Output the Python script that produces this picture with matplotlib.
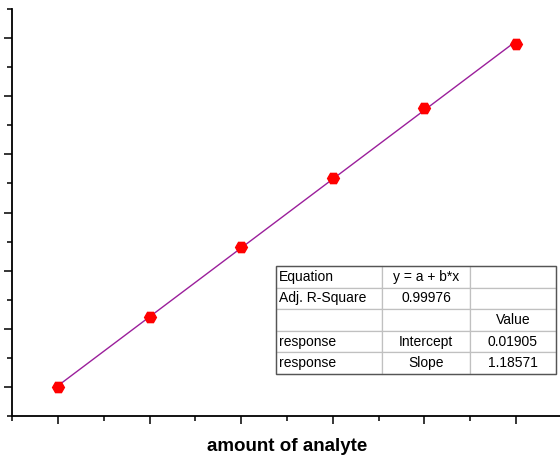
import matplotlib
matplotlib.use("Agg")
import matplotlib.pyplot as plt
import numpy as np
from matplotlib.ticker import MultipleLocator, NullFormatter

plt.rcParams["font.family"] = ["Liberation Sans", "DejaVu Sans"]

# calibration data
amount = np.array([0, 1, 2, 3, 4, 5], dtype=float)
response = np.array([0.0, 1.2, 2.4, 3.6, 4.8, 5.9])

# linear fit y = a + b*x
slope, intercept = np.polyfit(amount, response, 1)
pred = intercept + slope * amount
ss_res = np.sum((response - pred) ** 2)
ss_tot = np.sum((response - response.mean()) ** 2)
n = len(amount)
adj_r2 = 1 - (ss_res / ss_tot) * (n - 1) / (n - 2)

table_rows = [
    ["Equation", "y = a + b*x", ""],
    ["Adj. R-Square", f"{adj_r2:.5f}", ""],
    ["", "", "Value"],
    ["response", "Intercept", f"{intercept:.5f}"],
    ["response", "Slope", f"{slope:.5f}"],
]

fig = plt.figure(figsize=(5.6, 4.57), dpi=100)
ax = fig.add_axes([12 / 560, 1 - 416 / 457, 550 / 560, 407 / 457])

fit_x = np.array([amount.min(), amount.max()])
ax.plot(fit_x, intercept + slope * fit_x, color="#9b1f9b", lw=1.0, zorder=2)
ax.plot(amount, response, linestyle="none", marker="H", markersize=8.5,
        color="#ff0000", markeredgecolor="#ff0000", zorder=3)

ax.set_xlim(-0.5, 5.5)
ax.set_ylim(-0.5, 6.5)
ax.xaxis.set_major_locator(MultipleLocator(1))
ax.xaxis.set_minor_locator(MultipleLocator(0.5))
ax.yaxis.set_major_locator(MultipleLocator(1))
ax.yaxis.set_minor_locator(MultipleLocator(0.5))
ax.xaxis.set_major_formatter(NullFormatter())
ax.yaxis.set_major_formatter(NullFormatter())
ax.tick_params(which="major", direction="out", length=6, width=1.1, color="black")
ax.tick_params(which="minor", direction="out", length=3.5, width=1.1, color="black")
for side in ("top", "right"):
    ax.spines[side].set_visible(False)
for side in ("left", "bottom"):
    ax.spines[side].set_linewidth(1.3)

ax.set_xlabel("amount of analyte", fontsize=13.5, fontweight="bold", labelpad=6)

# stats table
tx0 = (276 - 12) / 550
ty0 = (416 - 374) / 407
tw = (556 - 276) / 550
th = (374 - 266) / 407
tbl = ax.table(cellText=table_rows, colWidths=[106, 88, 86],
               bbox=[tx0, ty0, tw, th], zorder=5)
tbl.auto_set_font_size(False)
for (r, c), cell in tbl.get_celld().items():
    cell.set_edgecolor("#c0c0c0")
    cell.set_linewidth(0.9)
    cell.set_facecolor("white")
    txt = cell.get_text()
    txt.set_fontsize(10)
    if c == 0:
        cell.set_text_props(ha="left")
        cell.PAD = 0.03
    else:
        cell.set_text_props(ha="center")
ax.add_patch(plt.Rectangle((tx0, ty0), tw, th, transform=ax.transAxes,
                           fill=False, edgecolor="#555555", lw=1.0, zorder=6))

fig.savefig("out.png", dpi=100)
